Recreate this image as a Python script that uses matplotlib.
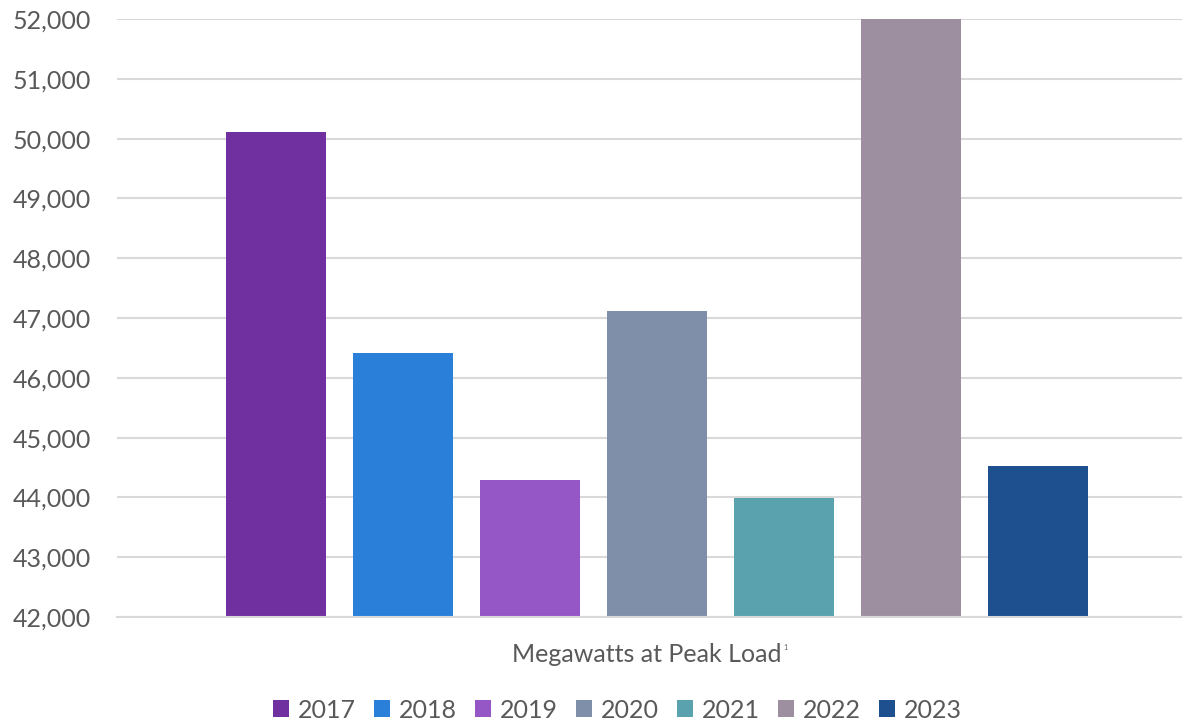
import matplotlib.pyplot as plt
from matplotlib.ticker import FuncFormatter

years = ["2017", "2018", "2019", "2020", "2021", "2022", "2023"]
peak_mw = [50110, 46420, 44290, 47120, 43990, 52000, 44530]
colors = ["#7030a0", "#2a80d9", "#9557c6", "#7f8fa9", "#5aa3ae", "#9d8f9f", "#1e5090"]

plt.rcParams["font.family"] = ["Lato", "DejaVu Sans"]
text_color = "#595959"

fig = plt.figure(figsize=(11.82, 7.23), dpi=100)
ax = fig.add_axes([117 / 1182, 1 - 617 / 723, 1 - 117 / 1182, (617 - 19) / 723])

pos = list(range(len(years)))
for i, (yr, val, c) in enumerate(zip(years, peak_mw, colors)):
    ax.bar(pos[i], val - 42000, bottom=42000, width=100 / 127, color=c, label=yr,
           zorder=3)

ax.set_ylim(42000, 52000)
ax.set_xlim(-1.252, 7.134)
ax.set_yticks(range(42000, 52001, 1000))
ax.yaxis.set_major_formatter(FuncFormatter(lambda v, p: f"{int(v):,}"))
ax.grid(axis="y", color="#d9d9d9", linewidth=1.5, zorder=0)
ax.set_axisbelow(True)
for s in ["top", "right", "left"]:
    ax.spines[s].set_visible(False)
ax.spines["bottom"].set_color("#d9d9d9")
ax.spines["bottom"].set_linewidth(1.5)
ax.spines["bottom"].set_zorder(4)
ax.set_xticks([])
ax.tick_params(axis="y", length=0, labelsize=18, labelcolor=text_color, pad=19)

fig.text(647 / 1182, 1 - 655 / 723, "Megawatts at Peak Load", ha="center", va="center",
         fontsize=18, color=text_color)
fig.text(783 / 1182, 1 - 648 / 723, "1", ha="left", va="center", fontsize=5,
         color=text_color)

fig.legend(loc="center", bbox_to_anchor=(0.522, 1 - 710 / 723), ncol=7, frameon=False,
           fontsize=18, labelcolor=text_color, handlelength=0.64, handleheight=0.64,
           handletextpad=0.36, columnspacing=0.72)

fig.savefig("out.png", dpi=100)
